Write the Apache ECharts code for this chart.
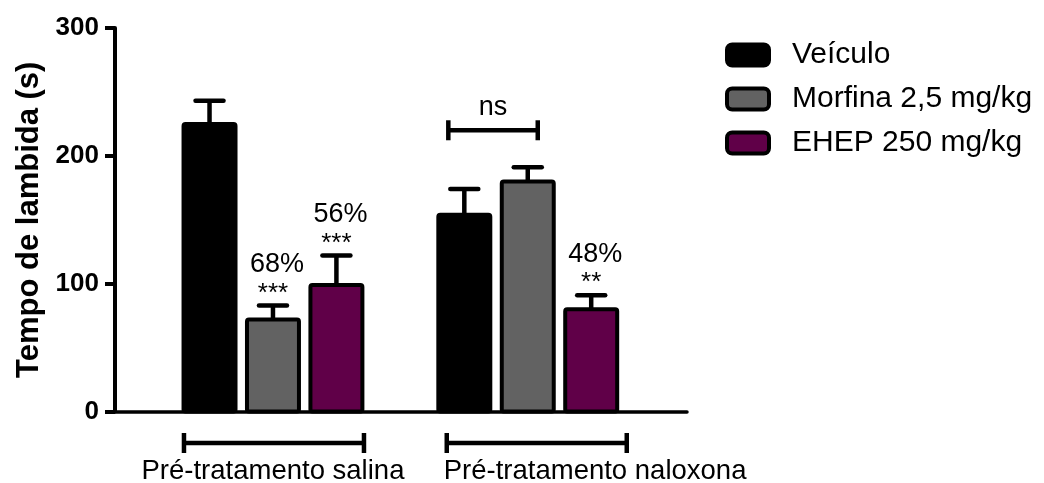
<!DOCTYPE html>
<html>
<head>
<meta charset="utf-8">
<script src="https://cdn.jsdelivr.net/npm/echarts@6/dist/echarts.min.js"></script>
<style>
  html, body { margin: 0; padding: 0; background: #fff; }
  #chart { width: 1044px; height: 483px; }
</style>
</head>
<body>
<div id="chart"></div>
<script>
// Licking time (s) per pre-treatment group and treatment
const groups = ['Pré-tratamento salina', 'Pré-tratamento naloxona'];
const treatments = ['Veículo', 'Morfina 2,5 mg/kg', 'EHEP 250 mg/kg'];
const veiculo = [225, 154];
const morfina = [72, 180];
const ehep = [99, 80];
// upper end of the error bars (mean + SEM)
const veiculoErr = [243, 174];
const morfinaErr = [83, 191];
const ehepErr = [122, 91];
// inhibition percentages and significance marks above each bar
const pctLabels = [['', '68%', '56%'], ['', '', '48%']];
const sigLabels = [['', '***', '***'], ['', '', '**']];
// Veículo vs Morfina within the naloxone group
const nsComparison = { group: 1, from: 0, to: 1, y: 220, text: 'ns' };

const FONT = '"Liberation Sans", Arial, Helvetica, sans-serif';
const colors = ['#000000', '#626262', '#600048'];
const BAR_STEP = 0.249;   // distance between bar centres, in group units
const BAR_WIDTH = 0.204;  // bar width, in group units
const groupLabelLayout = [
  { align: 'center', dx: 0 },
  { align: 'left', dx: -84 }
];
const bracketShift = [1, 9];

const means = [veiculo, morfina, ehep];
const errs = [veiculoErr, morfinaErr, ehepErr];

function barRenderer(s) {
  return function (params, api) {
    const g = api.value(0);
    const base = api.coord([g, 0]);
    const unit = api.size([1, 0])[0];
    const cx = base[0] + (s - 1) * unit * BAR_STEP;
    const y0 = base[1];
    const yTop = api.coord([g, api.value(1)])[1];
    const yErr = api.coord([g, api.value(2)])[1];
    const w = unit * BAR_WIDTH;
    const children = [
      { type: 'line', shape: { x1: cx, y1: yTop, x2: cx, y2: yErr },
        style: { stroke: '#000', lineWidth: 4.5 } },
      { type: 'line', shape: { x1: cx - 14, y1: yErr, x2: cx + 14, y2: yErr },
        style: { stroke: '#000', lineWidth: 4.5, lineCap: 'round' } },
      { type: 'rect', shape: { x: cx - w / 2, y: yTop, width: w, height: y0 - yTop, r: 2 },
        style: { fill: colors[s], stroke: '#000', lineWidth: 4, lineJoin: 'round' } }
    ];
    const pct = pctLabels[g][s];
    const sig = sigLabels[g][s];
    if (pct) {
      children.push({ type: 'text', x: cx + 4, y: yErr - 41,
        style: { text: pct, fill: '#000', font: '27px ' + FONT, align: 'center', verticalAlign: 'middle' } });
    }
    if (sig) {
      children.push({ type: 'text', x: cx, y: yErr - 12,
        style: { text: sig, fill: '#000', font: '26px ' + FONT, align: 'center', verticalAlign: 'middle' } });
    }
    return { type: 'group', children };
  };
}

const treatmentSeries = treatments.map((name, s) => ({
  name,
  type: 'custom',
  renderItem: barRenderer(s),
  itemStyle: { color: colors[s], borderColor: '#000', borderWidth: 4 },
  data: groups.map((_, g) => [g, means[s][g], errs[s][g]]),
  clip: false,
  z: 3
}));

// bracket and label under each pre-treatment group
const groupSeries = {
  type: 'custom',
  silent: true,
  clip: false,
  data: groups.map((_, g) => [g, 0]),
  renderItem(params, api) {
    const g = api.value(0);
    const base = api.coord([g, 0]);
    const cx = base[0] + bracketShift[g];
    const y = base[1] + 31.5;
    const half = 90;
    const st = { stroke: '#000', lineWidth: 4.5 };
    const lay = groupLabelLayout[g];
    return { type: 'group', children: [
      { type: 'line', shape: { x1: cx - half, y1: y, x2: cx + half, y2: y }, style: st },
      { type: 'line', shape: { x1: cx - half, y1: y - 10, x2: cx - half, y2: y + 10 }, style: st },
      { type: 'line', shape: { x1: cx + half, y1: y - 10, x2: cx + half, y2: y + 10 }, style: st },
      { type: 'text', x: base[0] + lay.dx, y: base[1] + 60,
        style: { text: groups[g], fill: '#000', font: '27.5px ' + FONT, align: lay.align, verticalAlign: 'middle' } }
    ] };
  }
};

// "ns" comparison bracket
const nsSeries = {
  type: 'custom',
  silent: true,
  clip: false,
  data: [[nsComparison.group, nsComparison.y]],
  renderItem(params, api) {
    const g = api.value(0);
    const p = api.coord([g, api.value(1)]);
    const unit = api.size([1, 0])[0];
    const x1 = p[0] + (nsComparison.from - 1) * unit * BAR_STEP - 16;
    const x2 = p[0] + (nsComparison.to - 1) * unit * BAR_STEP + 10;
    const y = p[1];
    const st = { stroke: '#000', lineWidth: 4.5 };
    return { type: 'group', children: [
      { type: 'line', shape: { x1, y1: y, x2, y2: y }, style: st },
      { type: 'line', shape: { x1, y1: y - 10, x2: x1, y2: y + 10 }, style: st },
      { type: 'line', shape: { x1: x2, y1: y - 10, x2, y2: y + 10 }, style: st },
      { type: 'text', x: (x1 + x2) / 2, y: y - 23,
        style: { text: nsComparison.text, fill: '#000', font: '27px ' + FONT, align: 'center', verticalAlign: 'middle' } }
    ] };
  }
};

const chart = echarts.init(document.getElementById('chart'), null, { renderer: 'canvas' });
chart.setOption({
  animation: false,
  backgroundColor: '#fff',
  grid: { left: 115, right: 357, top: 28, bottom: 71.5, containLabel: false },
  legend: {
    orient: 'vertical',
    left: 725,
    top: 40,
    padding: 0,
    itemWidth: 42,
    itemHeight: 21,
    itemGap: 14,
    selectedMode: false,
    textStyle: { fontSize: 30, color: '#000', fontFamily: FONT, padding: [0, 0, 0, 18] },
    data: treatments.map((n, i) => ({
      name: n,
      icon: 'roundRect',
      itemStyle: { color: colors[i], borderColor: '#000', borderWidth: 4 }
    }))
  },
  xAxis: {
    type: 'value',
    min: -0.62,
    max: 1.625,
    axisLine: { show: true, onZero: false, lineStyle: { color: '#000', width: 3.5 } },
    axisTick: { show: false },
    axisLabel: { show: false },
    splitLine: { show: false }
  },
  yAxis: {
    type: 'value',
    min: 0,
    max: 300,
    interval: 100,
    name: 'Tempo de lambida (s)',
    nameLocation: 'middle',
    nameRotate: 90,
    nameGap: 70,
    nameTextStyle: { fontSize: 31, fontWeight: 'bold', color: '#000', fontFamily: FONT },
    axisLine: { show: true, onZero: false, lineStyle: { color: '#000', width: 4 } },
    axisTick: { show: true, length: 10, lineStyle: { color: '#000', width: 4 } },
    axisLabel: { fontSize: 26, fontWeight: 'bold', color: '#000', fontFamily: FONT, margin: 16 },
    splitLine: { show: false }
  },
  series: [...treatmentSeries, groupSeries, nsSeries]
});
</script>
</body>
</html>
